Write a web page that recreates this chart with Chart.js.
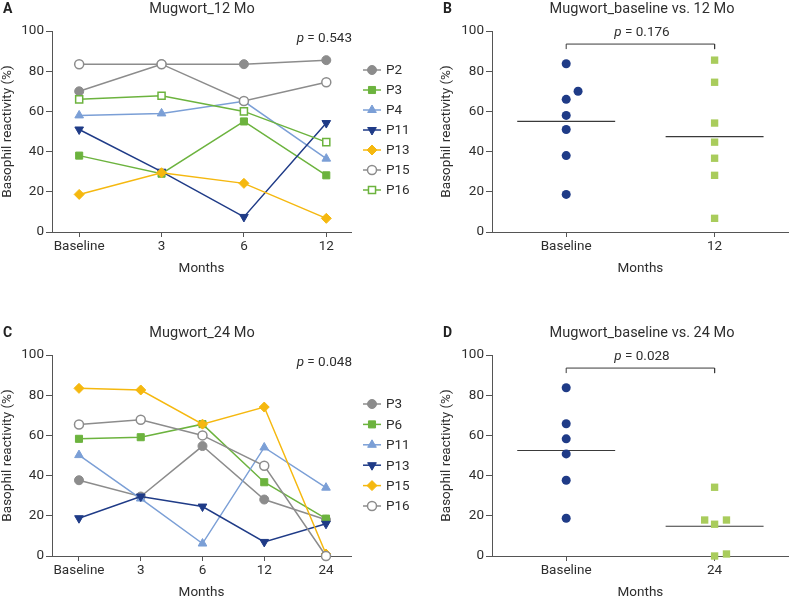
<!DOCTYPE html>
<html>
<head>
<meta charset="utf-8">
<script src="https://cdn.jsdelivr.net/npm/chart.js@4.4.0/dist/chart.umd.min.js"></script>
<style>
  body { margin: 0; background: #fff; width: 794px; height: 598px; overflow: hidden; position: relative; }
  canvas { position: absolute; }
</style>
</head>
<body>
<canvas id="chartA" width="430" height="300" style="left:0;top:0"></canvas>
<canvas id="chartB" width="394" height="300" style="left:400px;top:0"></canvas>
<canvas id="chartC" width="430" height="300" style="left:0;top:324px"></canvas>
<canvas id="chartD" width="394" height="300" style="left:400px;top:324px"></canvas>
<script>
// x categories
let months12 = ["Baseline", "3", "6", "12"];
let months24 = ["Baseline", "3", "6", "12", "24"];

// panel A: Mugwort_12 Mo
let a_P2 = [70, 83.5, 83.5, 85.5];
let a_P3 = [38, 29, 55, 28.2];
let a_P4 = [58, 59, 65, 36.5];
let a_P11 = [51, 30, 7.5, 54.2];
let a_P13 = [18.7, 29.5, 24.2, 6.8];
let a_P15 = [83.5, 83.5, 65.2, 74.5];
let a_P16 = [66, 67.8, 60, 44.7];

// panel C: Mugwort_24 Mo
let c_P3 = [37.7, 29.6, 54.7, 28.1, 18];
let c_P6 = [58.3, 59.1, 65.6, 36.7, 18.6];
let c_P11 = [50.2, 28.6, 6.2, 54, 34];
let c_P13 = [18.8, 29.6, 24.6, 7, 16];
let c_P15 = [83.4, 82.6, 65.6, 74.1, 1];
let c_P16 = [65.4, 67.8, 60, 44.9, 0];

// panel B: baseline vs 12 Mo
let groupsB = ["Baseline", "12"];
let b_base = [83.7, 70, 66, 58, 51, 38, 18.7];
let b_baseJitter = [0, 0.08, 0, 0, 0, 0, 0];
let b_12 = [85.5, 74.5, 54.2, 44.7, 36.7, 28.2, 6.8];
let b_12Jitter = [0, 0, 0, 0, 0, 0, 0];
let b_means = [55, 47.5];

// panel D: baseline vs 24 Mo
let groupsD = ["Baseline", "24"];
let d_base = [83.7, 65.8, 58.3, 50.8, 37.7, 18.8];
let d_baseJitter = [0, 0, 0, 0, 0, 0];
let d_24 = [34.2, 17.9, 15.8, 17.9, 0, 1];
let d_24Jitter = [0, -0.067, 0, 0.08, 0, 0.08];
let d_means = [52.5, 14.8];

let gray = "#8c8c8c";
let green = "#6cb33e";
let lightBlue = "#7b9fd6";
let navy = "#1f3b87";
let yellow = "#f5b80f";
let lightGreen = "#a9cc5c";
let ink = "#2e2e2e";
let axisColor = "#555";
let fontFamily = "Roboto, 'Noto Sans', sans-serif";

function series(label, vals, color, style, open, rot, radius) {
  return {
    label: label,
    data: vals.map((v, i) => ({ x: i, y: v })),
    showLine: true,
    borderColor: color,
    borderWidth: 1.5,
    pointStyle: style,
    pointRotation: rot || 0,
    pointRadius: radius,
    pointBackgroundColor: open ? "#fff" : color,
    pointBorderColor: color,
    pointBorderWidth: open ? 1.5 : 1,
    clip: false,
  };
}

function dots(vals, jitter, pos, color, style, radius) {
  return {
    data: vals.map((v, i) => ({ x: pos + jitter[i], y: v })),
    showLine: false,
    pointStyle: style,
    pointRadius: radius,
    pointBackgroundColor: color,
    pointBorderColor: color,
    pointBorderWidth: 0,
    clip: false,
  };
}

function segment(points, width) {
  return {
    data: points,
    showLine: true,
    borderColor: "#3a3a3a",
    borderWidth: width,
    pointRadius: 0,
    clip: false,
  };
}

function drawP(ctx, text, x, y, align) {
  ctx.font = "italic 13.5px " + fontFamily;
  let wp = ctx.measureText("p").width;
  ctx.font = "13.5px " + fontFamily;
  let wr = ctx.measureText(text).width;
  let start = align === "right" ? x - wp - wr : x - (wp + wr) / 2;
  ctx.textAlign = "left";
  ctx.font = "italic 13.5px " + fontFamily;
  ctx.fillText("p", start, y);
  ctx.font = "13.5px " + fontFamily;
  ctx.fillText(text, start + wp, y);
}

let annotPlugin = {
  id: "annot",
  afterDraw(chart, args, o) {
    let ctx = chart.ctx;
    ctx.save();
    ctx.fillStyle = "#222";
    ctx.textBaseline = "middle";
    ctx.textAlign = "left";
    ctx.font = "bold 14px " + fontFamily;
    ctx.fillText(o.letter, o.letterX, 9);
    ctx.font = "14.5px " + fontFamily;
    ctx.textAlign = "center";
    ctx.fillStyle = ink;
    ctx.fillText(o.title, o.titleX, 9);
    drawP(ctx, o.pText, o.pX, o.pY, o.pAlign);

    if (o.legend) {
      chart.data.datasets.forEach((ds, i) => {
        let y = o.legend.y + i * o.legend.gap;
        let x = o.legend.x;
        ctx.strokeStyle = ds.borderColor;
        ctx.lineWidth = 1.5;
        ctx.beginPath();
        ctx.moveTo(x, y);
        ctx.lineTo(x + 18, y);
        ctx.stroke();
        ctx.fillStyle = ds.pointBackgroundColor;
        ctx.strokeStyle = ds.pointBorderColor;
        ctx.lineWidth = ds.pointBorderWidth;
        Chart.helpers.drawPoint(ctx, {
          pointStyle: ds.pointStyle,
          radius: ds.pointRadius,
          rotation: ds.pointRotation,
          borderWidth: ds.pointBorderWidth,
        }, x + 9, y);
        ctx.fillStyle = ink;
        ctx.font = "13.5px " + fontFamily;
        ctx.textAlign = "left";
        ctx.fillText(ds.label, x + 23, y + 1);
      });
    }
    ctx.restore();
  },
};

function makeOptions(labels, xmin, xmax, yWidth, yTitlePad, padRight, annot) {
  return {
    responsive: false,
    animation: false,
    events: [],
    layout: { padding: { left: 0, right: padRight, top: 31, bottom: 0 } },
    plugins: { legend: { display: false }, tooltip: { enabled: false }, annot: annot },
    scales: {
      x: {
        type: "linear",
        min: xmin,
        max: xmax,
        afterBuildTicks: (s) => { s.ticks = labels.map((l, i) => ({ value: i })); },
        afterFit: (s) => { s.height = 68; },
        ticks: {
          callback: (v) => labels[v],
          autoSkip: false,
          maxRotation: 0,
          padding: 2,
          color: ink,
          font: { family: fontFamily, size: 13.5 },
        },
        grid: { drawOnChartArea: false, drawTicks: true, tickLength: 5, color: axisColor },
        border: { color: axisColor, width: 1 },
        title: {
          display: true,
          text: "Months",
          color: ink,
          font: { family: fontFamily, size: 13.5 },
          padding: { top: 0, bottom: 23 },
        },
      },
      y: {
        min: 0,
        max: 100,
        afterFit: (s) => { s.width = yWidth; },
        ticks: { stepSize: 20, padding: 2, color: ink, font: { family: fontFamily, size: 13.5 } },
        grid: { drawOnChartArea: false, drawTicks: true, tickLength: 6, color: axisColor },
        border: { color: axisColor, width: 1 },
        title: {
          display: true,
          text: "Basophil reactivity (%)",
          color: ink,
          font: { family: fontFamily, size: 13.5 },
          padding: { top: yTitlePad, bottom: 0 },
        },
      },
    },
  };
}

function withOrder(list) {
  list.forEach((ds, i) => { ds.order = -i; });
  return list;
}

new Chart(document.getElementById("chartA"), {
  type: "scatter",
  data: {
    datasets: withOrder([
      series("P2", a_P2, gray, "circle", false, 0, 4.5),
      series("P3", a_P3, green, "rect", false, 0, 5),
      series("P4", a_P4, lightBlue, "triangle", false, 0, 5),
      series("P11", a_P11, navy, "triangle", false, 180, 5),
      series("P13", a_P13, yellow, "rectRot", false, 0, 5),
      series("P15", a_P15, gray, "circle", true, 0, 4.5),
      series("P16", a_P16, green, "rect", true, 0, 5),
    ]),
  },
  options: makeOptions(months12, -0.33, 3.3, 52, 0, 79, {
    letter: "A", letterX: 3, title: "Mugwort_12 Mo", titleX: 202,
    pText: " = 0.543", pX: 352, pY: 39, pAlign: "right",
    legend: { x: 363, y: 70, gap: 20 },
  }),
  plugins: [annotPlugin],
});

new Chart(document.getElementById("chartC"), {
  type: "scatter",
  data: {
    datasets: withOrder([
      series("P3", c_P3, gray, "circle", false, 0, 4.5),
      series("P6", c_P6, green, "rect", false, 0, 5),
      series("P11", c_P11, lightBlue, "triangle", false, 0, 5),
      series("P13", c_P13, navy, "triangle", false, 180, 5),
      series("P15", c_P15, yellow, "rectRot", false, 0, 5),
      series("P16", c_P16, gray, "circle", true, 0, 4.5),
    ]),
  },
  options: makeOptions(months24, -0.437, 4.405, 52, 0, 79, {
    letter: "C", letterX: 3, title: "Mugwort_24 Mo", titleX: 202,
    pText: " = 0.048", pX: 352, pY: 39, pAlign: "right",
    legend: { x: 363, y: 80, gap: 20.4 },
  }),
  plugins: [annotPlugin],
});

new Chart(document.getElementById("chartB"), {
  type: "scatter",
  data: {
    datasets: [
      dots(b_base, b_baseJitter, 0, navy, "circle", 4.5),
      dots(b_12, b_12Jitter, 1, lightGreen, "rect", 5.2),
      segment([{ x: -0.33, y: b_means[0] }, { x: 0.33, y: b_means[0] }], 1.2),
      segment([{ x: 0.67, y: b_means[1] }, { x: 1.33, y: b_means[1] }], 1.2),
      segment([{ x: 0, y: 91 }, { x: 0, y: 93.5 }, { x: 1, y: 93.5 }, { x: 1, y: 91 }], 1),
    ],
  },
  options: makeOptions(groupsB, -0.5, 1.5, 92, 39, 2, {
    letter: "B", letterX: 43, title: "Mugwort_baseline vs. 12 Mo", titleX: 242,
    pText: " = 0.176", pX: 242, pY: 33, pAlign: "center",
  }),
  plugins: [annotPlugin],
});

new Chart(document.getElementById("chartD"), {
  type: "scatter",
  data: {
    datasets: [
      dots(d_base, d_baseJitter, 0, navy, "circle", 4.5),
      dots(d_24, d_24Jitter, 1, lightGreen, "rect", 5.2),
      segment([{ x: -0.33, y: d_means[0] }, { x: 0.33, y: d_means[0] }], 1.2),
      segment([{ x: 0.67, y: d_means[1] }, { x: 1.33, y: d_means[1] }], 1.2),
      segment([{ x: 0, y: 91 }, { x: 0, y: 93.5 }, { x: 1, y: 93.5 }, { x: 1, y: 91 }], 1),
    ],
  },
  options: makeOptions(groupsD, -0.5, 1.5, 92, 39, 2, {
    letter: "D", letterX: 43, title: "Mugwort_baseline vs. 24 Mo", titleX: 242,
    pText: " = 0.028", pX: 242, pY: 33, pAlign: "center",
  }),
  plugins: [annotPlugin],
});
</script>
</body>
</html>
